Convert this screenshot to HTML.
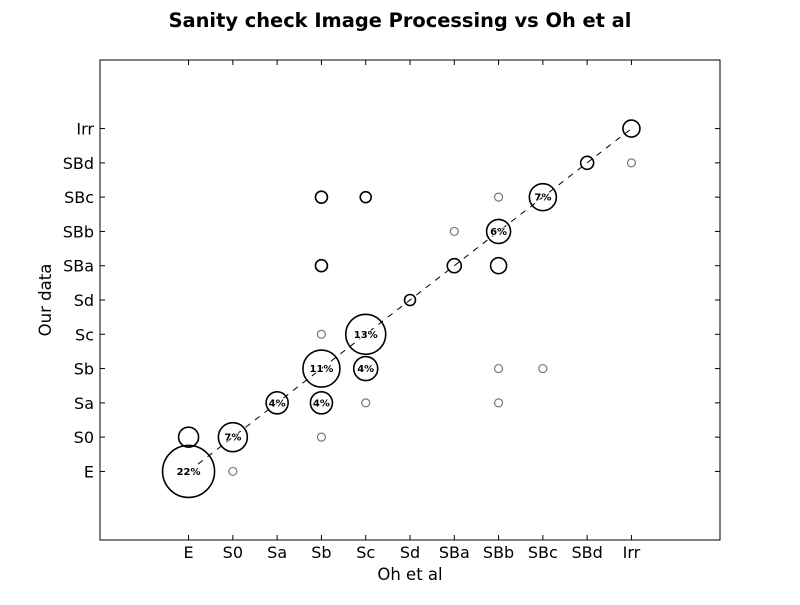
<!DOCTYPE html>
<html><head><meta charset="utf-8"><style>body{margin:0;background:#fff}svg text{font-family:"DejaVu Sans","Liberation Sans",sans-serif}</style></head>
<body>
<svg id="c" width="800" height="600">
<rect width="800" height="600" fill="#fff"/>
<text x="400" y="27" text-anchor="middle" font-size="19.4" font-weight="bold">Sanity check Image Processing vs Oh et al</text>
<rect x="100" y="60" width="620" height="480" fill="none" stroke="#000"/>
<g id="ax"></g><g id="pts"></g>
<text x="410" y="580" text-anchor="middle" font-size="16.5">Oh et al</text>
<text transform="translate(51,300) rotate(-90)" text-anchor="middle" font-size="16.5">Our data</text>
</svg>
<script>
const categories=["E","S0","Sa","Sb","Sc","Sd","SBa","SBb","SBc","SBd","Irr"];
const xs=[0,1,0,1,2,3,3,3,3,3,3,4,4,4,4,5,6,6,7,7,7,7,7,8,8,9,10,10];
const ys=[0,1,1,0,2,2,3,1,4,6,8,4,3,2,8,5,6,7,7,6,8,3,2,8,3,9,9,10];
const radii=[26,14.5,10,4,11,11,18.5,4,4,6,6,20,12,4,5.5,5.5,7,4,12,8,4,4,4,13.5,4,6.5,4,8.5];
const grayPts=[0,0,0,1,0,0,0,1,1,0,0,0,0,1,0,0,0,1,0,0,1,1,1,0,1,0,1,0];
const labels=["22%","7%","","","4%","4%","11%","","","","","13%","4%","","","","","","6%","","","","","7%","","","",""];
const X=v=>100+(v+2)*620/14, Y=v=>540-(v+2)*480/14;
const NS="http://www.w3.org/2000/svg";
const ax=document.getElementById('ax'),pts=document.getElementById('pts');
function mk(p,t,a){const e=document.createElementNS(NS,t);for(const k in a)e.setAttribute(k,a[k]);p.appendChild(e);return e;}
categories.forEach((c,i)=>{
 let x=X(i),y=Y(i);
 mk(ax,'line',{x1:x,x2:x,y1:540,y2:535,stroke:'#000'});
 mk(ax,'line',{x1:x,x2:x,y1:60,y2:65,stroke:'#000'});
 let t=mk(ax,'text',{x:x,y:558,'text-anchor':'middle','font-size':16});t.textContent=c;
 
 
 mk(ax,'line',{x1:100,x2:105,y1:y,y2:y,stroke:'#000'});
 mk(ax,'line',{x1:715,x2:720,y1:y,y2:y,stroke:'#000'});
 let u=mk(ax,'text',{x:94,y:y+6,'text-anchor':'end','font-size':16});u.textContent=c;
 
 
});
xs.forEach((v,i)=>{
 const g=grayPts[i];
 let c=mk(pts,'circle',{cx:X(v),cy:Y(ys[i]),r:radii[i],fill:'none',stroke:g?'#777':'#000','stroke-width':g?1.2:1.6});
 
 
});
let l=mk(pts,'line',{x1:X(0),y1:Y(0),x2:X(10),y2:Y(10),stroke:'#000','stroke-dasharray':'6,6'});


xs.forEach((v,i)=>{
 if(!labels[i])return;
 let t=mk(pts,'text',{x:X(v),y:Y(ys[i])+3.5,'text-anchor':'middle','font-size':10,'font-weight':'bold',stroke:'#fff','stroke-width':1.5,'paint-order':'stroke'});
 t.textContent=labels[i];
 
 
});
</script>
</body></html>
